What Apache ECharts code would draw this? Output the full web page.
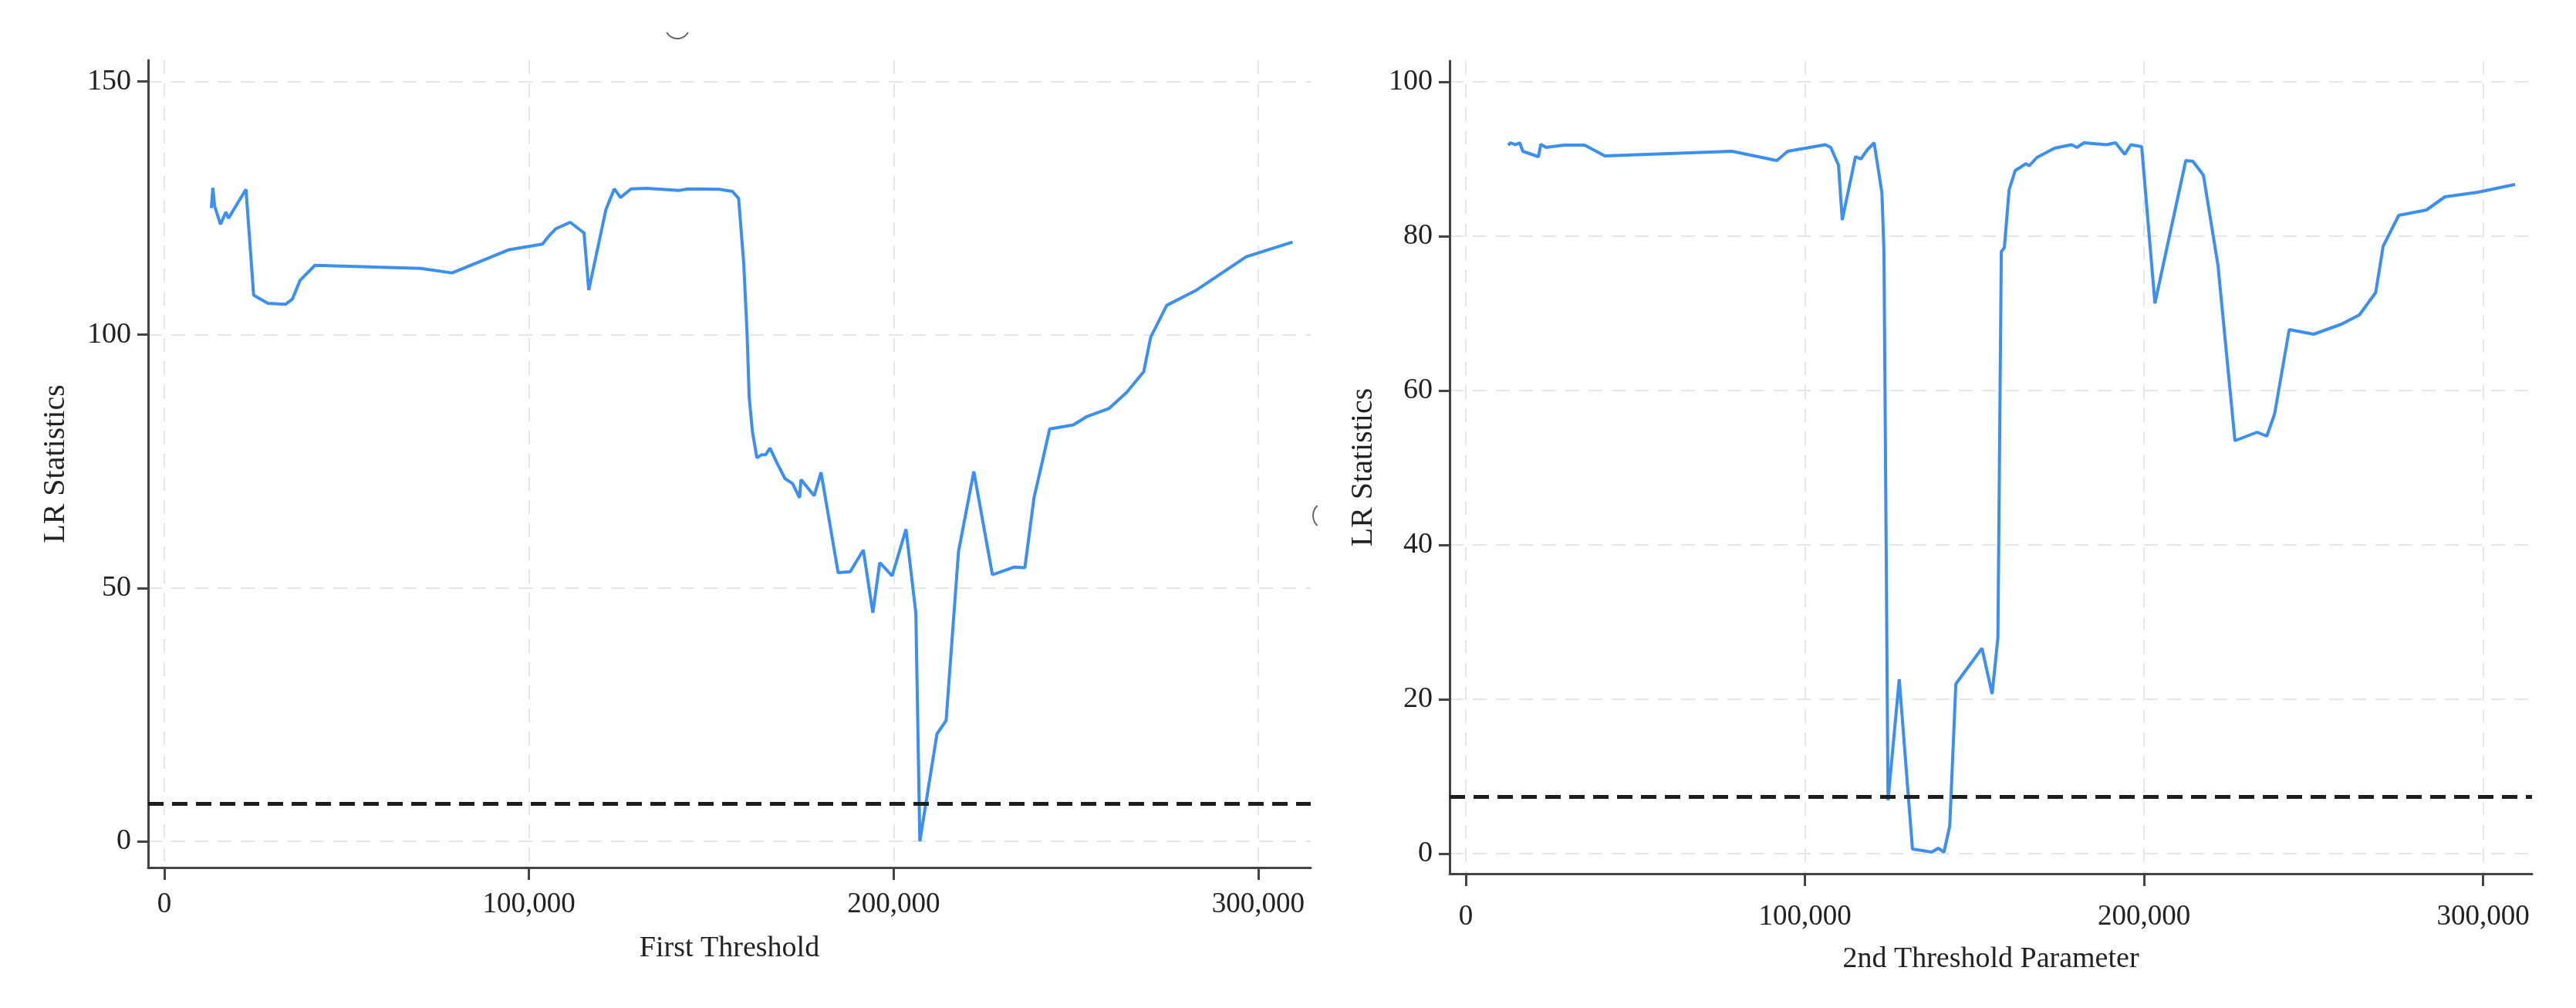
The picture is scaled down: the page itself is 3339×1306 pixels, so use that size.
<!DOCTYPE html>
<html>
<head>
<meta charset="utf-8">
<title>LR Statistics</title>
<script src="https://cdn.jsdelivr.net/npm/echarts@6.0.0/dist/echarts.min.js"></script>
<style>
  html, body { margin: 0; padding: 0; background: #fff; }
  #chart { width: 3339px; height: 1306px; }
</style>
</head>
<body>
<div id="chart"></div>
<script>
// first threshold: threshold value / LR statistic
var firstX = [12900, 13300, 13800, 15400, 16900, 17600, 22400, 24500, 28400, 33200, 35100, 37200, 41300,
  70300, 78900, 94600, 103700, 105600, 107300, 111300, 115100, 116400, 121100, 123400, 125100, 128000,
  132300, 141200, 143700, 152200, 155800, 157500, 158900, 159800, 160400, 161300, 162500, 163800, 164900,
  166100, 168000, 170200, 172300, 174200, 174600, 178200, 180100, 184800, 188100, 191700, 194300, 196200,
  199600, 203400, 206100, 207200, 211900, 214400, 217800, 222000, 227100, 233000, 236000, 238500, 240800,
  242800, 249300, 252900, 259000, 263900, 268600, 270500, 274900, 282800, 296700, 309400]
var firstLR = [125.0, 129.0, 125.4, 121.8, 124.2, 123.0, 128.7, 107.8, 106.2, 106.0, 107.0, 110.7, 113.7,
  113.1, 112.2, 116.8, 117.9, 119.6, 120.9, 122.2, 120.1, 108.8, 124.7, 128.8, 127.1, 128.8,
  128.9, 128.5, 128.8, 128.7, 128.3, 126.9, 114.1, 100.5, 87.6, 80.8, 75.7, 76.3, 76.3,
  77.6, 74.7, 71.6, 70.6, 67.8, 71.4, 68.2, 72.8, 53.0, 53.2, 57.5, 45.1, 55.0,
  52.4, 61.6, 45.1, 0.0, 21.2, 23.8, 57.2, 73.0, 52.6, 54.1, 54.0, 67.8, 75.0,
  81.4, 82.2, 83.8, 85.4, 88.6, 92.7, 99.5, 105.8, 108.7, 115.4, 118.3]

// second threshold
var secondX = [12500, 13200, 14600, 15900, 16800, 21400, 22100, 23700, 28900, 35000, 41000, 78500, 91700,
  94900, 106000, 107600, 109900, 111000, 114900, 116500, 118400, 120400, 122700, 123300, 124500, 127800,
  131700, 137400, 139300, 141000, 142700, 144500, 152200, 155200, 156900, 157900, 158800, 160200, 162000,
  165200, 166100, 168400, 173600, 178600, 180200, 182300, 188900, 191600, 194300, 196100, 199300, 203200,
  212300, 214400, 217500, 221800, 226800, 233300, 236200, 238500, 242800, 250000, 258200, 263500, 268300,
  270500, 275100, 283300, 288700, 298500, 309400]
var secondLR = [91.8, 92.1, 91.85, 92.1, 91.0, 90.3, 91.9, 91.5, 91.8, 91.8, 90.4, 91.0, 89.8,
  91.0, 91.85, 91.5, 89.2, 82.1, 90.3, 90.0, 91.2, 92.1, 85.6, 78.0, 6.9, 22.6,
  0.6, 0.2, 0.7, 0.2, 3.6, 22.0, 26.6, 20.7, 28.0, 78.0, 78.5, 86.0, 88.5,
  89.4, 89.1, 90.2, 91.4, 91.85, 91.5, 92.1, 91.85, 92.1, 90.6, 91.85, 91.6, 71.3,
  89.8, 89.7, 87.9, 76.2, 53.5, 54.6, 54.1, 57.0, 67.9, 67.3, 68.6, 69.8, 72.7,
  78.7, 82.7, 83.4, 85.1, 85.7, 86.7]

var criticalValue = 7.35
var xTicks = [0, 100000, 200000, 300000]
var yTicksFirst = [0, 50, 100, 150]
var yTicksSecond = [0, 20, 40, 60, 80, 100]

var chart = echarts.init(document.getElementById('chart'))

function zip(xs, ys) {
  var out = []
  for (var i = 0; i < xs.length; i++) {
    out.push([xs[i], ys[i]])
  }
  return out
}

function thousands(v) {
  return String(v).replace(/\B(?=(\d{3})+(?!\d))/g, ',')
}

var serif = '"Liberation Serif", "DejaVu Serif", serif'
var gridLine = { show: true, lineStyle: { color: '#e6e6e6', width: 2, type: [18, 12] } }

function xAxisOf(gridIndex, name, min, max, gap, labelMargin) {
  return {
    type: 'value', gridIndex: gridIndex, min: min, max: max,
    name: name, nameLocation: 'middle', nameGap: gap,
    nameTextStyle: { fontFamily: serif, fontSize: 38, color: '#222' },
    axisLine: { show: true, onZero: false, lineStyle: { color: '#444', width: 3 } },
    axisTick: { show: true, length: 16, customValues: xTicks, lineStyle: { color: '#444', width: 3 } },
    axisLabel: { customValues: xTicks, margin: labelMargin, fontFamily: serif, fontSize: 37, color: '#222', formatter: thousands },
    splitLine: gridLine
  }
}

function yAxisOf(gridIndex, min, max, ticks, gap) {
  return {
    type: 'value', gridIndex: gridIndex, min: min, max: max,
    name: 'LR Statistics', nameLocation: 'middle', nameGap: gap,
    nameTextStyle: { fontFamily: serif, fontSize: 40, color: '#222' },
    axisLine: { show: true, onZero: false, lineStyle: { color: '#444', width: 3 } },
    axisTick: { show: true, length: 14, customValues: ticks, lineStyle: { color: '#444', width: 3 } },
    axisLabel: { customValues: ticks, margin: 22, fontFamily: serif, fontSize: 38, color: '#222' },
    splitLine: gridLine
  }
}

function lrSeries(idx, data) {
  return {
    type: 'line', xAxisIndex: idx, yAxisIndex: idx,
    data: data, showSymbol: false, symbol: 'none',
    lineStyle: { color: '#3a8ff0', width: 4 },
    markLine: {
      silent: true, symbol: 'none', label: { show: false },
      lineStyle: { color: '#1e1e1e', width: 5, type: [20, 11] },
      data: [{ yAxis: criticalValue }]
    }
  }
}

var option = {
  backgroundColor: '#fff',
  animation: false,
  grid: [
    { left: 192, top: 78, width: 1507, height: 1046 },
    { left: 1879, top: 79, width: 1403, height: 1053 }
  ],
  xAxis: [
    xAxisOf(0, 'First Threshold', -4440, 314400, 86, 30),
    xAxisOf(1, '2nd Threshold Parameter', -4780, 314400, 92, 38)
  ],
  yAxis: [
    yAxisOf(0, -5.2, 154.2, yTicksFirst, 100),
    yAxisOf(1, -2.6, 102.7, yTicksSecond, 92)
  ],
  graphic: [
    { type: 'arc', shape: { cx: 878, cy: 34, r: 16, startAngle: Math.PI / 6, endAngle: Math.PI * 5 / 6 },
      style: { stroke: '#666', lineWidth: 2, fill: null } },
    { type: 'arc', shape: { cx: 1720, cy: 668, r: 18, startAngle: 2.34, endAngle: 3.94 },
      style: { stroke: '#666', lineWidth: 2, fill: null } }
  ],
  series: [
    lrSeries(0, zip(firstX, firstLR)),
    lrSeries(1, zip(secondX, secondLR))
  ]
}

chart.setOption(option)
</script>
</body>
</html>
